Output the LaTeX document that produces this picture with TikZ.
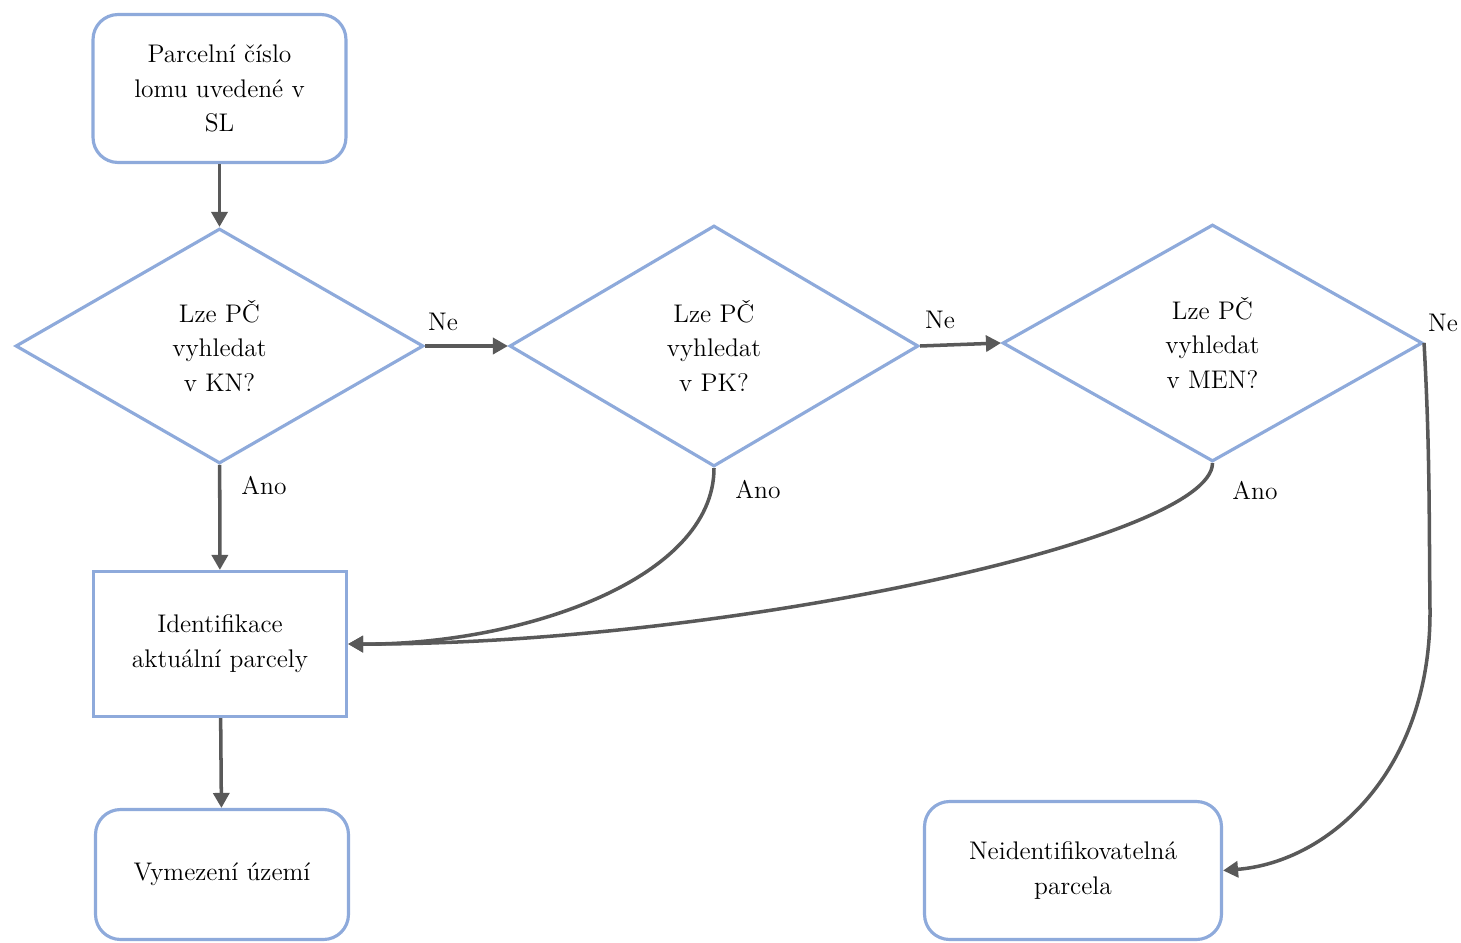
\documentclass[tikz,border=0pt]{standalone}
\usepackage{fontspec}
\usepackage{tikz}
\usepackage{xcolor}
\usetikzlibrary{shapes.geometric,arrows.meta}
\definecolor{boxblue}{HTML}{8EAADB}
\definecolor{arrowgray}{HTML}{595959}

\begin{document}
\begin{tikzpicture}[x=0.02cm, y=-0.02cm,
  every node/.style={font=\rmfamily\fontsize{14.5}{19.8}\selectfont, align=center},
  roundbox/.style={draw=boxblue, line width=1.8pt, rounded corners=0.5cm},
  plainbox/.style={draw=boxblue, line width=1.8pt},
  question/.style={diamond, draw=boxblue, line width=1.8pt, inner sep=0pt},
  flow/.style={draw=arrowgray, line width=2pt, -{Triangle[length=0.3cm, width=0.32cm]}},
  answer/.style={inner sep=0pt}]
  \useasboundingbox (0,0) rectangle (1461,943);

  % Start
  \node[roundbox, minimum width=5.06cm, minimum height=2.96cm] (start) at (219.5,88.5)
    {Parcelní číslo\\lomu uvedené v\\SL};

  % Questions
  \node[question, minimum width=8.16cm, minimum height=4.7cm] (kn) at (219.5,346)
    {Lze PČ\\vyhledat\\v KN?};
  \node[question, minimum width=8.18cm, minimum height=4.82cm] (pk) at (714,346)
    {Lze PČ\\vyhledat\\v PK?};
  \node[question, minimum width=8.4cm, minimum height=4.74cm] (men) at (1212.5,343)
    {Lze PČ\\vyhledat\\v MEN?};

  % Results
  \node[plainbox, minimum width=5.06cm, minimum height=2.9cm] (ident) at (220,644)
    {Identifikace\\aktuální parcely};
  \node[roundbox, minimum width=5.06cm, minimum height=2.6cm] (vymezeni) at (222,874.5)
    {Vymezení území};
  \node[roundbox, minimum width=5.94cm, minimum height=2.76cm] (neid) at (1073,870.5)
    {Neidentifikovatelná\\parcela};

  % Straight connectors
  \draw[flow] (start) -- (kn);
  \draw[flow] (kn) -- (ident);
  \draw[flow] (ident) -- (vymezeni);
  \draw[flow] (kn.east) -- (pk.west);
  \draw[flow] (pk.east) -- (men.west);

  % Curved connectors
  \draw[flow] (pk.south) .. controls (714,580) and (520,645) .. (ident.east);
  \draw[flow] (men.south) .. controls (1212,540) and (720,645) .. (ident.east);
  \draw[flow] (men.east) .. controls (1430,450) and (1429,520) .. (1430,610)
    .. controls (1431,770) and (1330,862) .. (neid.east);

  % Answers
  \node[answer] (ne1) at (443,322) {Ne};
  \node[answer] (ne2) at (940,320) {Ne};
  \node[answer] (ne3) at (1443,323) {Ne};
  \node[answer] (ano1) at (264,486) {Ano};
  \node[answer] (ano2) at (758,490) {Ano};
  \node[answer] (ano3) at (1255,491) {Ano};
\end{tikzpicture}
\end{document}
